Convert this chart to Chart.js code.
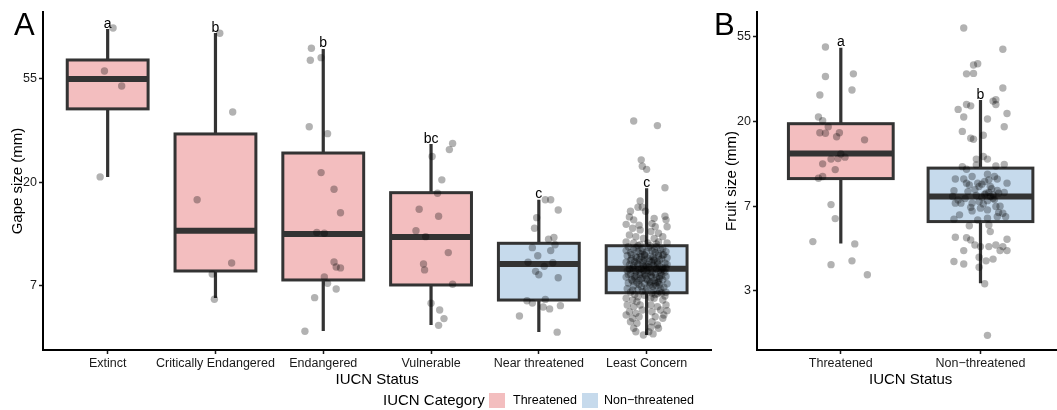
<!DOCTYPE html>
<html>
<head>
<meta charset="utf-8">
<script src="https://cdn.jsdelivr.net/npm/chart.js@4/dist/chart.umd.min.js"></script>
<style>
  body { margin: 0; background: #fff; font-family: "Liberation Sans", Arial, sans-serif; }
  #wrap { position: relative; width: 1057px; height: 410px; overflow: hidden; }
  canvas { position: absolute; top: 0; }
  #chartA { left: 0; }
  #chartB { left: 715px; }
  .tag { position: absolute; top: 9px; font-size: 31px; line-height: 32px; color: #000; }
  .leg { position: absolute; top: 392px; height: 16px; line-height: 16px; color: #000; white-space: nowrap; }
  .sw { position: absolute; top: 393px; width: 16px; height: 15px; }
</style>
</head>
<body>
<div id="wrap">
  <canvas id="chartA" width="715" height="392"></canvas>
  <canvas id="chartB" width="353" height="392"></canvas>
  <div class="tag" style="left:14px">A</div>
  <div class="tag" style="left:714px">B</div>
  <div class="leg" style="left:383px;font-size:15px">IUCN Category</div>
  <div class="sw" style="left:489px;background:#F3BEBF"></div>
  <div class="leg" style="left:513px;font-size:12.5px">Threatened</div>
  <div class="sw" style="left:582px;background:#C6DAEC"></div>
  <div class="leg" style="left:604px;font-size:12.5px">Non−threatened</div>
</div>
<script>
// Panel A: gape size by IUCN status (mm, log axis)
const gapeCats = ['Extinct', 'Critically Endangered', 'Endangered', 'Vulnerable', 'Near threatened', 'Least Concern'];
const gapeGroup = ['threat', 'threat', 'threat', 'threat', 'non', 'non'];
const gapeLow  = [21.2, 6.58, 4.78, 5.07, 4.74, 4.60];
const gapeQ1   = [40.9, 8.54, 7.83, 7.46, 6.45, 6.92];
const gapeMed  = [54.6, 12.6, 12.2, 11.86, 9.14, 8.73];
const gapeQ3   = [65.6, 32.1, 26.7, 18.2, 11.16, 10.9];
const gapeHigh = [88.5, 85.1, 73.0, 29.1, 17.0, 19.0];
const gapeLetters = ['a', 'b', 'b', 'bc', 'c', 'c'];
const gapeTickVals = [7.389, 20.09, 54.6];
const gapeTickLabels = ['7', '20', '55'];

// jittered species points: [x offset, value]
const extinctPts = [[0.05, 89.4], [-0.03, 59.0], [0.13, 51.0], [-0.07, 21.2]];
const critPts = [[0.04, 85.0], [0.16, 39.7], [-0.17, 17.0], [0.15, 9.23], [-0.03, 8.30], [-0.01, 6.50]];
const endPts = [[-0.11, 73.5], [-0.12, 65.4], [-0.02, 67.1], [-0.13, 34.4], [0.04, 32.2], [-0.02, 22.1],
  [0.10, 18.8], [0.16, 15.0], [-0.06, 12.4], [0.01, 12.3], [0.10, 9.32], [0.12, 8.88], [0.16, 8.80],
  [0.01, 8.06], [0.04, 7.58], [0.12, 7.18], [-0.08, 6.60], [-0.17, 4.77]];
const vulnPts = [[0.20, 29.3], [0.17, 27.6], [0.01, 25.8], [0.10, 20.6], [0.06, 18.1], [-0.11, 15.5],
  [0.07, 14.5], [-0.14, 12.6], [-0.05, 11.9], [0.16, 10.2], [-0.07, 9.14], [-0.06, 8.63], [0.20, 7.51],
  [0.00, 6.25], [0.08, 5.86], [0.12, 5.39], [0.07, 5.05]];
const nearPts = [[0.06, 17.0], [0.11, 17.0], [0.18, 15.4], [-0.02, 14.3], [-0.04, 12.9], [0.09, 11.6],
  [0.14, 11.8], [0.15, 11.0], [0.11, 10.4], [-0.06, 10.7], [-0.01, 9.90], [-0.10, 9.29], [0.13, 9.25],
  [0.05, 8.93], [-0.03, 8.51], [0.00, 8.24], [0.18, 8.00], [-0.11, 6.41], [-0.06, 6.27], [0.06, 6.49],
  [0.04, 6.03], [0.10, 5.92], [0.20, 6.11], [-0.18, 5.53], [0.17, 4.73]];
const leastPts = [
  [-0.12, 36.4], [0.10, 34.8], [-0.05, 25.0], [-0.04, 23.5], [0.00, 22.8], [0.17, 19.1], [-0.06, 16.8],
  [-0.08, 15.8], [-0.04, 15.8], [-0.01, 15.2], [-0.15, 15.2], [-0.16, 14.4], [-0.12, 14.0], [0.17, 14.5],
  [0.18, 14.0], [0.19, 13.1], [0.07, 14.2], [0.05, 13.5], [0.08, 13.1], [-0.19, 13.4], [-0.13, 12.9],
  [-0.07, 13.3], [-0.06, 12.7], [0.04, 12.5], [0.11, 12.3], [-0.16, 12.1], [-0.10, 11.9], [-0.03, 11.7],
  [0.07, 11.7], [0.15, 11.9], [-0.19, 11.3], [-0.12, 11.2], [0.01, 11.2], [0.11, 11.3], [0.19, 11.2],
  [-0.17, 10.8], [-0.08, 10.9], [0.02, 10.7], [0.09, 10.8], [0.15, 10.6],
  [-0.19, 10.4], [-0.12, 10.5], [-0.04, 10.6], [0.05, 10.4], [0.13, 10.5], [0.18, 10.3],
  [-0.15, 10.2], [-0.06, 10.1], [0.00, 10.3], [0.08, 10.2], [0.16, 10.0],
  [-0.18, 9.9], [-0.10, 9.8], [-0.02, 9.95], [0.04, 9.85], [0.11, 9.9], [0.19, 9.7],
  [-0.14, 9.6], [-0.07, 9.5], [0.01, 9.65], [0.07, 9.55], [0.14, 9.6],
  [-0.19, 9.3], [-0.11, 9.35], [-0.04, 9.25], [0.03, 9.4], [0.10, 9.3], [0.17, 9.2],
  [-0.16, 9.05], [-0.08, 9.1], [-0.01, 9.0], [0.06, 9.05], [0.12, 8.95], [0.19, 9.1],
  [-0.13, 8.8], [-0.05, 8.75], [0.02, 8.85], [0.09, 8.7], [0.15, 8.8],
  [-0.18, 8.55], [-0.10, 8.5], [-0.03, 8.6], [0.04, 8.5], [0.11, 8.55], [0.17, 8.45],
  [-0.15, 8.3], [-0.06, 8.25], [0.01, 8.35], [0.08, 8.3], [0.14, 8.2],
  [-0.19, 8.05], [-0.11, 8.1], [-0.04, 8.0], [0.05, 8.05], [0.12, 7.95], [0.18, 8.1],
  [-0.14, 7.85], [-0.07, 7.8], [0.00, 7.9], [0.07, 7.8], [0.15, 7.85],
  [-0.17, 7.6], [-0.09, 7.65], [-0.02, 7.55], [0.04, 7.6], [0.11, 7.7], [0.19, 7.55],
  [-0.12, 7.4], [-0.05, 7.35], [0.03, 7.45], [0.09, 7.4], [0.16, 7.3],
  [-0.18, 7.2], [-0.08, 7.15], [0.00, 7.25], [0.06, 7.1], [0.13, 7.2],
  [-0.15, 6.95], [-0.04, 7.0], [0.05, 6.9], [0.12, 7.0], [0.18, 6.95],
  [-0.11, 6.8], [-0.02, 6.75], [0.08, 6.8], [0.17, 6.7],
  [-0.09, 9.7], [-0.03, 9.4], [0.06, 9.75], [-0.12, 9.0], [0.00, 8.9], [0.10, 9.15], [-0.07, 8.65],
  [0.05, 8.4], [-0.01, 8.15], [0.09, 8.0], [-0.10, 8.2], [-0.05, 7.9], [0.03, 7.7], [0.12, 7.5],
  [-0.13, 7.75], [0.07, 9.45], [-0.02, 10.0], [0.11, 10.1], [-0.08, 10.3], [0.14, 8.65],
  [-0.14, 10.0], [-0.09, 9.2], [-0.06, 8.4], [-0.02, 9.6], [0.02, 9.1], [0.04, 8.2], [0.08, 8.9],
  [0.12, 9.5], [0.16, 8.6], [-0.16, 8.7], [-0.11, 7.95], [-0.07, 7.5], [-0.03, 8.95], [0.01, 7.8],
  [0.06, 7.35], [0.10, 7.65], [0.13, 8.4], [-0.15, 9.45], [-0.04, 10.3], [0.07, 10.5], [-0.10, 10.7],
  [0.03, 10.9], [0.15, 9.95], [-0.06, 11.0], [0.09, 11.1], [-0.13, 7.1], [-0.01, 7.05], [0.10, 6.85],
  [-0.08, 6.65], [0.04, 6.6], [0.14, 6.9], [-0.17, 8.25], [0.18, 8.8], [-0.05, 9.8], [0.05, 9.3],
  [-0.12, 8.6], [0.00, 8.55], [0.12, 8.1], [-0.02, 8.3], [0.08, 7.55],
  [-0.19, 6.56], [-0.13, 6.45], [-0.09, 6.35], [0.07, 6.56], [0.15, 6.45], [-0.18, 6.15], [-0.12, 6.05],
  [-0.06, 6.15], [0.04, 6.15], [0.10, 6.05], [0.18, 6.15], [-0.16, 5.76], [-0.10, 5.67], [-0.04, 5.86],
  [0.05, 5.76], [0.13, 5.86], [0.19, 5.82], [-0.19, 5.58], [-0.13, 5.41], [-0.07, 5.49], [0.08, 5.49],
  [0.15, 5.41], [0.16, 5.58], [-0.15, 5.23], [-0.09, 5.15], [0.05, 5.23], [0.10, 5.07], [-0.12, 4.91],
  [0.04, 4.96], [0.11, 4.91], [-0.10, 4.75], [-0.03, 4.60], [0.06, 4.65], [0.02, 4.75]];

// Panel B: fruit size, threatened vs non-threatened
const fruitCats = ['Threatened', 'Non−threatened'];
const fruitGroup = ['threat', 'non'];
const fruitLow  = [4.76, 2.98];
const fruitQ1   = [10.25, 6.17];
const fruitMed  = [13.8, 8.29];
const fruitQ3   = [19.6, 11.6];
const fruitHigh = [48.1, 25.9];
const fruitLetters = ['a', 'b'];
const fruitTickVals = [2.718, 7.389, 20.09, 54.6];
const fruitTickLabels = ['3', '7', '20', '55'];

const threatPts = [[-0.11, 48.5], [0.09, 35.3], [-0.11, 34.2], [0.08, 29.2], [-0.15, 27.5], [-0.16, 21.2],
  [-0.13, 20.3], [-0.09, 18.9], [-0.15, 17.6], [-0.11, 17.5], [-0.03, 16.8], [-0.01, 17.6], [0.17, 16.2],
  [0.00, 13.7], [-0.07, 12.9], [-0.02, 13.0], [0.03, 13.2], [-0.13, 12.2], [-0.04, 11.4], [-0.13, 10.5],
  [-0.16, 10.3], [-0.07, 7.54], [-0.04, 6.39], [-0.20, 4.87], [0.10, 4.74], [-0.07, 3.71], [0.08, 3.88],
  [0.19, 3.29]];
const nonThreatPts = [[-0.12, 60.7], [0.16, 47.2], [-0.05, 39.2], [-0.02, 39.8], [-0.10, 35.3], [-0.05, 35.5],
  [0.16, 29.9], [-0.10, 24.6], [-0.07, 24.2], [-0.16, 23.2], [0.09, 25.6], [0.11, 26.0], [0.11, 24.6],
  [0.19, 22.1], [-0.12, 21.2], [0.05, 20.7], [0.17, 18.9], [-0.13, 17.9], [-0.07, 16.5], [-0.05, 16.3],
  [0.02, 17.1], [-0.03, 12.9], [0.02, 13.3], [0.05, 12.9], [-0.13, 11.8], [0.11, 11.9], [0.17, 12.1],
  [-0.10, 11.45], [-0.03, 12.05], [-0.18, 10.2], [-0.12, 10.2], [-0.10, 9.71], [-0.06, 10.5], [-0.02, 9.71],
  [-0.01, 9.33], [0.05, 10.8], [0.10, 10.5], [0.12, 10.2], [0.19, 9.71], [0.03, 9.90], [0.07, 9.33],
  [-0.19, 8.89], [-0.16, 7.97], [-0.14, 7.67], [-0.06, 7.67], [-0.01, 7.81], [0.04, 8.63], [0.06, 8.69],
  [0.09, 8.46], [0.13, 8.63], [0.17, 8.69], [-0.20, 8.29], [-0.18, 7.67], [-0.06, 7.00], [0.00, 7.23],
  [0.05, 7.08], [0.11, 7.37], [0.16, 6.81], [-0.15, 6.68], [-0.19, 6.35], [-0.02, 6.29], [0.05, 6.42],
  [0.12, 6.54], [0.18, 6.54], [0.01, 8.22], [0.09, 8.13], [-0.09, 8.79], [0.13, 6.86],
  [0.07, 8.3], [0.03, 8.5], [-0.04, 9.0], [0.10, 8.0], [-0.08, 9.5], [0.14, 7.4], [0.02, 7.6], [-0.11, 8.1],
  [0.08, 9.1], [0.05, 7.9], [-0.03, 8.4], [0.01, 9.6], [0.12, 8.9], [-0.07, 7.3], [0.06, 10.1],
  [-0.08, 5.87], [0.06, 5.93], [0.07, 5.48], [-0.18, 5.13], [-0.10, 5.10], [-0.07, 4.97], [-0.04, 4.68],
  [0.00, 4.59], [0.06, 4.59], [0.11, 4.68], [0.16, 4.59], [0.19, 5.01], [0.19, 4.38], [0.14, 4.38],
  [-0.12, 4.38], [-0.01, 4.05], [0.04, 3.88], [0.09, 3.96], [-0.19, 3.85], [-0.12, 3.74], [-0.01, 3.60],
  [0.03, 2.96], [0.05, 1.61]];

const fills = { threat: '#F3BEBF', non: '#C6DAEC' };
const ink = '#333333';
const fontFamily = '"Liberation Sans", Arial, sans-serif';

function toXY(groups) {
  return groups.flatMap((pts, i) => pts.map(([j, v]) => ({ x: i + j, y: v })));
}

// draws boxes/whiskers under the points and the letters above them
function boxPlugin(s) {
  return {
    id: 'boxes',
    beforeDatasetsDraw(chart) {
      const { ctx } = chart;
      const x = chart.scales.x, y = chart.scales.y;
      ctx.save();
      s.med.forEach((m, i) => {
        const c = x.getPixelForValue(i);
        const l = x.getPixelForValue(i - 0.375), r = x.getPixelForValue(i + 0.375);
        const top = y.getPixelForValue(s.q3[i]), bot = y.getPixelForValue(s.q1[i]);
        ctx.strokeStyle = ink;
        ctx.lineWidth = 3.2;
        ctx.beginPath();
        ctx.moveTo(c, y.getPixelForValue(s.high[i])); ctx.lineTo(c, top);
        ctx.moveTo(c, bot); ctx.lineTo(c, y.getPixelForValue(s.low[i]));
        ctx.stroke();
        ctx.fillStyle = fills[s.group[i]];
        ctx.fillRect(l, top, r - l, bot - top);
        ctx.lineWidth = 3;
        ctx.strokeRect(l, top, r - l, bot - top);
        const my = y.getPixelForValue(m);
        ctx.lineWidth = 6;
        ctx.beginPath();
        ctx.moveTo(l, my); ctx.lineTo(r, my);
        ctx.stroke();
      });
      ctx.restore();
    },
    afterDatasetsDraw(chart) {
      const { ctx } = chart;
      const x = chart.scales.x, y = chart.scales.y;
      ctx.save();
      ctx.fillStyle = '#000';
      ctx.font = '14px ' + fontFamily;
      ctx.textAlign = 'center';
      ctx.textBaseline = 'alphabetic';
      s.letters.forEach((t, i) => {
        ctx.fillText(t, x.getPixelForValue(i), y.getPixelForValue(s.high[i]) - 1.5);
      });
      ctx.restore();
    }
  };
}

function makeOptions(cats, tickVals, tickLabels, yMin, yMax, xMax, yTitle, yWidth, yTitlePad, padRight) {
  const tickFont = { family: fontFamily, size: 12.5 };
  const titleFont = { family: fontFamily, size: 15 };
  return {
    responsive: false,
    animation: false,
    events: [],
    layout: { padding: { left: 0, right: padRight, top: 12, bottom: 0 } },
    plugins: { legend: { display: false }, tooltip: { enabled: false } },
    scales: {
      x: {
        type: 'linear', min: -0.6, max: xMax,
        afterBuildTicks: sc => { sc.ticks = cats.map((_, i) => ({ value: i })); },
        afterFit: sc => { sc.height = 42; },
        ticks: { callback: (v, i) => cats[i], color: '#1a1a1a', font: tickFont, padding: 2, maxRotation: 0, autoSkip: false },
        grid: { drawOnChartArea: false, drawTicks: true, tickLength: 4, tickColor: '#1a1a1a', tickWidth: 1.5 },
        border: { display: true, color: '#000', width: 2 },
        title: { display: true, text: 'IUCN Status', color: '#000', font: titleFont, padding: { top: 0, bottom: 3 } }
      },
      y: {
        type: 'logarithmic', min: yMin, max: yMax,
        afterBuildTicks: sc => { sc.ticks = tickVals.map(v => ({ value: v })); },
        afterFit: sc => { sc.width = yWidth; },
        ticks: { callback: (v, i) => tickLabels[i], color: '#1a1a1a', font: tickFont, padding: 2, autoSkip: false },
        grid: { drawOnChartArea: false, drawTicks: true, tickLength: 4, tickColor: '#1a1a1a', tickWidth: 1.5 },
        border: { display: true, color: '#000', width: 2 },
        title: { display: true, text: yTitle, color: '#000', font: titleFont, padding: { top: yTitlePad, bottom: 0 } }
      }
    }
  };
}

const pointStyle = { pointRadius: 3.7, pointHoverRadius: 3.7, borderWidth: 0, backgroundColor: 'rgba(0,0,0,0.3)' };

new Chart(document.getElementById('chartA'), {
  type: 'scatter',
  data: { datasets: [{ data: toXY([extinctPts, critPts, endPts, vulnPts, nearPts, leastPts]), ...pointStyle }] },
  options: makeOptions(gapeCats, gapeTickVals, gapeTickLabels, 3.98, 104.3, 5.6, 'Gape size (mm)', 43, 9, 3),
  plugins: [boxPlugin({ low: gapeLow, q1: gapeQ1, med: gapeMed, q3: gapeQ3, high: gapeHigh, group: gapeGroup, letters: gapeLetters })]
});

new Chart(document.getElementById('chartB'), {
  type: 'scatter',
  data: { datasets: [{ data: toXY([threatPts, nonThreatPts]), ...pointStyle }] },
  options: makeOptions(fruitCats, fruitTickVals, fruitTickLabels, 1.354, 73.3, 1.6, 'Fruit size (mm)', 42, 8, 0),
  plugins: [boxPlugin({ low: fruitLow, q1: fruitQ1, med: fruitMed, q3: fruitQ3, high: fruitHigh, group: fruitGroup, letters: fruitLetters })]
});
</script>
</body>
</html>
